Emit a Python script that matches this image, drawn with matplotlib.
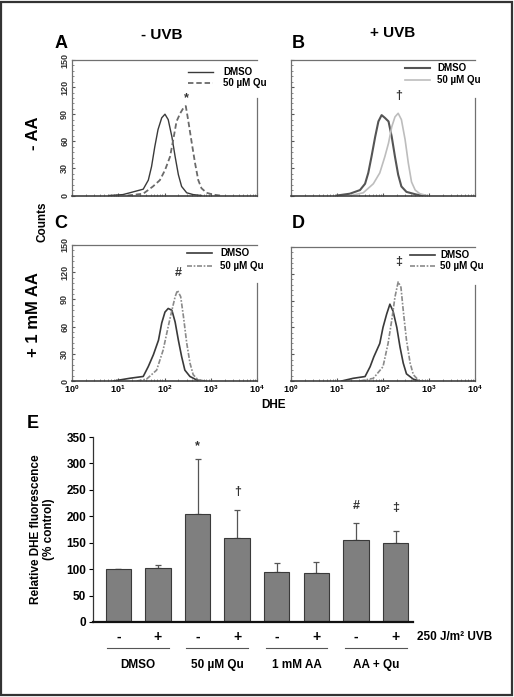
import numpy as np
import matplotlib
matplotlib.use("Agg")
import matplotlib.pyplot as plt
from matplotlib.ticker import FixedLocator, MultipleLocator, NullFormatter
from matplotlib.patches import Rectangle

plt.rcParams['font.family'] = ['Liberation Sans', 'DejaVu Sans']
plt.rcParams['font.weight'] = 'bold'
plt.rcParams['mathtext.fontset'] = 'custom'
plt.rcParams['mathtext.rm'] = 'Liberation Sans:bold'
plt.rcParams['mathtext.bf'] = 'Liberation Sans:bold'
plt.rcParams['mathtext.it'] = 'Liberation Sans:bold'

# ---------------- histogram data (log10 DHE, counts) ----------------
a_dmso_log = [0.8, 1.1, 1.25, 1.54, 1.65, 1.72, 1.79, 1.86, 1.94, 2.01, 2.08, 2.16, 2.23, 2.30, 2.37, 2.48, 2.62, 2.8]
a_dmso_cnt = [0, 1, 3, 7, 17, 32, 54, 73, 86, 90, 84, 65, 43, 23, 10, 3, 1, 0]
a_qu_log = [1.2, 1.54, 1.75, 1.90, 2.01, 2.12, 2.19, 2.26, 2.34, 2.41, 2.46, 2.51, 2.59, 2.66, 2.73, 2.80, 2.91, 3.05, 3.2]
a_qu_cnt = [0, 2, 10, 17, 28, 43, 62, 82, 91, 97, 99, 84, 58, 36, 17, 8, 3, 1, 0]

b_dmso_log = [1.0, 1.28, 1.5, 1.61, 1.68, 1.75, 1.83, 1.90, 1.97, 2.04, 2.12, 2.19, 2.26, 2.33, 2.40, 2.51, 2.73, 2.9]
b_dmso_cnt = [0, 2, 6, 13, 25, 43, 65, 82, 89, 86, 82, 65, 43, 23, 10, 4, 1, 0]
b_qu_log = [1.3, 1.57, 1.79, 1.93, 2.04, 2.12, 2.19, 2.26, 2.33, 2.40, 2.48, 2.55, 2.62, 2.70, 2.80, 2.95]
b_qu_cnt = [0, 3, 13, 25, 43, 58, 76, 87, 91, 84, 62, 36, 15, 6, 2, 0]

c_dmso_log = [0.9, 1.25, 1.54, 1.65, 1.76, 1.87, 1.94, 2.01, 2.08, 2.16, 2.23, 2.30, 2.37, 2.44, 2.55, 2.70, 2.85]
c_dmso_cnt = [0, 3, 5, 16, 29, 45, 64, 76, 80, 78, 65, 45, 27, 12, 5, 1, 0]
c_qu_log = [1.4, 1.61, 1.83, 1.97, 2.08, 2.16, 2.23, 2.28, 2.35, 2.41, 2.48, 2.55, 2.62, 2.73, 2.9]
c_qu_cnt = [0, 2, 12, 34, 60, 78, 93, 100, 93, 71, 42, 20, 7, 1, 0]

d_dmso_log = [1.1, 1.35, 1.61, 1.72, 1.80, 1.93, 2.00, 2.08, 2.15, 2.22, 2.30, 2.37, 2.44, 2.51, 2.66, 2.8]
d_dmso_cnt = [0, 3, 5, 16, 27, 42, 60, 75, 86, 78, 60, 38, 20, 8, 2, 0]
d_qu_log = [1.5, 1.79, 2.00, 2.11, 2.19, 2.26, 2.33, 2.39, 2.44, 2.51, 2.59, 2.66, 2.77, 2.9]
d_qu_cnt = [0, 3, 16, 42, 68, 94, 111, 105, 79, 46, 20, 7, 1, 0]

hist_yticks = [0, 30, 60, 90, 120, 150]
hist_xtick_labels = [r'$10^{0}$', r'$10^{1}$', r'$10^{2}$', r'$10^{3}$', r'$10^{4}$']
legend_labels = ['DMSO', '50 \u00b5M Qu']
sig_marks = ['*', '\u2020', '#', '\u2021']

# ---------------- bar data ----------------
bar_uvb = ['-', '+', '-', '+', '-', '+', '-', '+']
bar_values = [100, 103, 205, 158, 95, 93, 156, 150]
bar_errors = [0, 5, 103, 53, 17, 21, 32, 23]
bar_groups = ['DMSO', '50 \u00b5M Qu', '1 mM AA', 'AA + Qu']
bar_marks = {2: ('*', 322), 3: ('\u2020', 234), 6: ('#', 208), 7: ('\u2021', 204)}

W, H = 514, 697
fig = plt.figure(figsize=(W / 100, H / 100), dpi=100)


def fx(px):
    return px / W


def fy(py):
    return 1 - py / H


def hist_axes(left, right, top, bottom):
    return fig.add_axes([fx(left), fy(bottom), fx(right - left), (bottom - top) / H])


panels = [
    dict(rect=(72, 257, 60, 195.5), dmso=(a_dmso_log, a_dmso_cnt), qu=(a_qu_log, a_qu_cnt),
         c1='#3a3a3a', c2='#6a6a6a', ls2=(0, (3.0, 1.6)), lw1=1.0, lw2=1.3, ylab=True, xlab=False,
         mark=(sig_marks[0], 2.47, 101), leg=(188, 213, 223, 72, 83)),
    dict(rect=(291, 475, 60, 195.5), dmso=(b_dmso_log, b_dmso_cnt), qu=(b_qu_log, b_qu_cnt),
         c1='#555555', c2='#bdbdbd', ls2='-', lw1=1.5, lw2=1.2, ylab=False, xlab=False,
         mark=(sig_marks[1], 2.33, 103), leg=(405, 430, 437, 68, 80)),
    dict(rect=(72, 257, 245, 381), dmso=(c_dmso_log, c_dmso_cnt), qu=(c_qu_log, c_qu_cnt),
         c1='#3a3a3a', c2='#8a8a8a', ls2=(0, (3.0, 1.0, 1.0, 1.0)), lw1=1.2, lw2=1.2, ylab=True, xlab=True,
         mark=(sig_marks[2], 2.30, 113), leg=(187, 212, 220, 253, 266)),
    dict(rect=(291, 475, 247, 381), dmso=(d_dmso_log, d_dmso_cnt), qu=(d_qu_log, d_qu_cnt),
         c1='#3a3a3a', c2='#8a8a8a', ls2=(0, (3.0, 1.0, 1.0, 1.0)), lw1=1.2, lw2=1.2, ylab=False, xlab=True,
         mark=(sig_marks[3], 2.33, 127), leg=(410, 435, 440, 255, 266)),
]

for p in panels:
    l, r, t, b = p['rect']
    ax = hist_axes(l, r, t, b)
    ax.set_xscale('log')
    ax.set_xlim(1, 1e4)
    ax.set_ylim(0, 150)
    ax.plot(10 ** np.array(p['dmso'][0]), p['dmso'][1], color=p['c1'], lw=p['lw1'], ls='-')
    ax.plot(10 ** np.array(p['qu'][0]), p['qu'][1], color=p['c2'], lw=p['lw2'], ls=p['ls2'])
    for s in ['top', 'left', 'bottom', 'right']:
        ax.spines[s].set_color('#707070')
        ax.spines[s].set_linewidth(0.9)
    ax.spines['bottom'].set_color('#404040')
    ax.spines['bottom'].set_linewidth(1.2)
    ax.spines['right'].set_bounds(0, 108)
    ax.set_xticks([1, 10, 100, 1000, 10000])
    ax.xaxis.set_minor_locator(FixedLocator([m * 10 ** e for e in range(4) for m in range(2, 10)]))
    ax.xaxis.set_minor_formatter(NullFormatter())
    ax.set_yticks(hist_yticks)
    ax.yaxis.set_minor_locator(MultipleLocator(6))
    ax.tick_params(which='major', direction='in', length=2.5, width=0.8, color='#555555', pad=2)
    ax.tick_params(which='minor', direction='in', length=1.5, width=0.6, color='#777777')
    if p['xlab']:
        ax.set_xticklabels(hist_xtick_labels, fontsize=6.5)
    else:
        ax.set_xticklabels([])
    if p['ylab']:
        ax.set_yticklabels([str(v) for v in hist_yticks], fontsize=6.5, rotation=90, va='center',
                           color='#333333')
    else:
        ax.set_yticklabels([])
    sym, mx, my = p['mark']
    ax.text(10 ** mx, my, sym, fontsize=9, ha='center', va='bottom', color='#333333')
    # legend drawn in figure pixels
    x0, x1, xt, y1, y2 = p['leg']
    fig.add_artist(plt.Line2D([fx(x0), fx(x1)], [fy(y1), fy(y1)], color=p['c1'], lw=p['lw1'], ls='-'))
    fig.add_artist(plt.Line2D([fx(x0), fx(x1)], [fy(y2), fy(y2)], color=p['c2'], lw=p['lw2'], ls=p['ls2']))
    fig.text(fx(xt), fy(y1), legend_labels[0], fontsize=7, fontweight='bold', va='center', ha='left')
    fig.text(fx(xt), fy(y2), legend_labels[1], fontsize=7, fontweight='bold', va='center', ha='left')

# panel labels and headers
for s, x, y in [('A', 61, 44), ('B', 298, 44), ('C', 61, 224), ('D', 298, 224)]:
    fig.text(fx(x), fy(y), s, fontsize=13, fontweight='bold', ha='center', va='center')
fig.text(fx(162), fy(35), '- UVB', fontsize=11, fontweight='bold', ha='center', va='center')
fig.text(fx(393), fy(33), '+ UVB', fontsize=11, fontweight='bold', ha='center', va='center')
fig.text(fx(33), fy(133), '- AA', fontsize=12, fontweight='bold', ha='center', va='center', rotation=90)
fig.text(fx(33), fy(315), '+ 1 mM AA', fontsize=12, fontweight='bold', ha='center', va='center', rotation=90)
fig.text(fx(43), fy(222), 'Counts', fontsize=8.5, fontweight='bold', ha='center', va='center', rotation=90)
fig.text(fx(274), fy(405), 'DHE', fontsize=8.5, fontweight='bold', ha='center', va='center')

# ---------------- panel E ----------------
axe = fig.add_axes([fx(93), fy(622), fx(320), 185 / H])
xpos = np.arange(len(bar_values))
axe.bar(xpos, bar_values, width=0.64, color='#7f7f7f', edgecolor='#3a3a3a', linewidth=0.8, zorder=2)
axe.errorbar(xpos, bar_values, yerr=[np.zeros(len(bar_errors)), bar_errors], fmt='none',
             ecolor='#555555', elinewidth=0.9, capsize=2, capthick=0.9, zorder=1)
axe.set_xlim(-0.64, 7.44)
axe.set_ylim(0, 350)
axe.set_yticks(range(0, 351, 50))
axe.set_yticklabels([str(v) for v in range(0, 351, 50)], fontsize=8.5, fontweight='bold')
axe.set_xticks([])
for s in ['top', 'right']:
    axe.spines[s].set_visible(False)
axe.spines['left'].set_color('#333333')
axe.spines['left'].set_linewidth(0.9)
axe.spines['bottom'].set_color('#111111')
axe.spines['bottom'].set_linewidth(1.6)
axe.tick_params(axis='y', direction='out', length=3, width=0.8, pad=2)
axe.set_ylabel('Relative DHE fluorescence\n(% control)', fontsize=8.5, fontweight='bold', labelpad=8,
               linespacing=1.1)
for i, (sym, yv) in bar_marks.items():
    axe.text(xpos[i], yv, sym, fontsize=9, ha='center', va='bottom', color='#333333')

trans = axe.get_xaxis_transform()
for i, s in enumerate(bar_uvb):
    axe.text(xpos[i], -0.081, s, fontsize=10, fontweight='bold', ha='center', va='center', transform=trans)
axe.text(7.55, -0.081, '250 J/m\u00b2 UVB', fontsize=8.5, fontweight='bold', ha='left', va='center',
         transform=trans)
for g, name in enumerate(bar_groups):
    c = 2 * g + 0.5
    axe.plot([c - 0.78, c + 0.78], [-0.14, -0.14], color='#555555', lw=0.8, transform=trans, clip_on=False)
    axe.text(c, -0.232, name, fontsize=8.5, fontweight='bold', ha='center', va='center', transform=trans)

fig.text(fx(33), fy(423), 'E', fontsize=13, fontweight='bold', ha='center', va='center')

# outer frame
fig.add_artist(Rectangle((0.002, 0.003), 0.994, 0.994, transform=fig.transFigure, fill=False,
                         edgecolor='#333333', lw=1.6))

fig.savefig('out.png', dpi=100)
